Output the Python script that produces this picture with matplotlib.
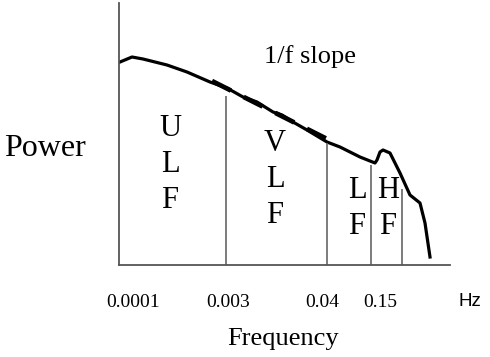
import numpy as np
import matplotlib
matplotlib.use("Agg")
import matplotlib.pyplot as plt

# spectrum shape, arbitrary units (x = position along log-frequency axis)
spec_x = [1, 13, 24, 48, 68, 91, 108, 124, 138, 154, 163, 174, 188, 208, 221,
          241, 256, 258, 261, 264, 271, 281, 291, 301, 306, 311]
spec_p = [203, 208, 206, 200, 193, 183, 177, 168, 163, 153, 150, 143, 135, 123, 118,
          108, 102, 105, 113, 115, 112, 92, 70, 62, 42, 8]

# 1/f reference line
slope_x = [93, 218]
slope_p = [184, 121]

# band boundaries: position and height where they meet the curve
band_x = [107, 208, 252, 283]
band_top = [169, 122, 100, 76]
tick_labels = ["0.0001", "0.003", "0.04", "0.15"]
tick_pos = [14, 109, 203, 261]

band_names = ["ULF", "VLF", "LF", "HF"]
band_label_x = [51, 156, 238, 269]
band_label_top = [137, 122, 75, 75]

serif = "Liberation Serif"

fig = plt.figure(figsize=(4.9, 3.57), dpi=100, facecolor="w")
ax = fig.add_axes([119 / 490, 92 / 357, 331 / 490, 262 / 357])
ax.set_xlim(0, 331)
ax.set_ylim(0, 262)

ax.plot(spec_x, spec_p, color="black", lw=2.3, solid_joinstyle="round")
ax.plot(slope_x, slope_p, color="black", lw=3.4, dashes=(4.5, 3.0))
ax.vlines(band_x, 0, band_top, color="#666666", lw=1.2)

# letters of each band stacked vertically
for name, bx, top in zip(band_names, band_label_x, band_label_top):
    for i, ch in enumerate(name):
        ax.text(bx, top - i * 36, ch, family=serif, fontsize=22,
                ha="center", va="center")

ax.text(191, 208, "1/f slope", family=serif, fontsize=19, ha="center", va="center")

ax.spines["top"].set_visible(False)
ax.spines["right"].set_visible(False)
for s in ["left", "bottom"]:
    ax.spines[s].set_color("#555555")
    ax.spines[s].set_linewidth(1.3)

ax.set_xticks(tick_pos)
ax.set_xticklabels(tick_labels, family=serif, fontsize=14)
ax.tick_params(axis="x", length=0, pad=21)
ax.set_yticks([])

fig.text(45 / 490, 1 - 148 / 357, "Power", family=serif, fontsize=23,
         ha="center", va="center")
fig.text(283 / 490, 1 - 339 / 357, "Frequency", family=serif, fontsize=19,
         ha="center", va="center")
fig.text(470 / 490, 1 - 302 / 357, "Hz", family="Liberation Sans", fontsize=13.5,
         ha="center", va="center")

fig.savefig("out.png", dpi=100)
